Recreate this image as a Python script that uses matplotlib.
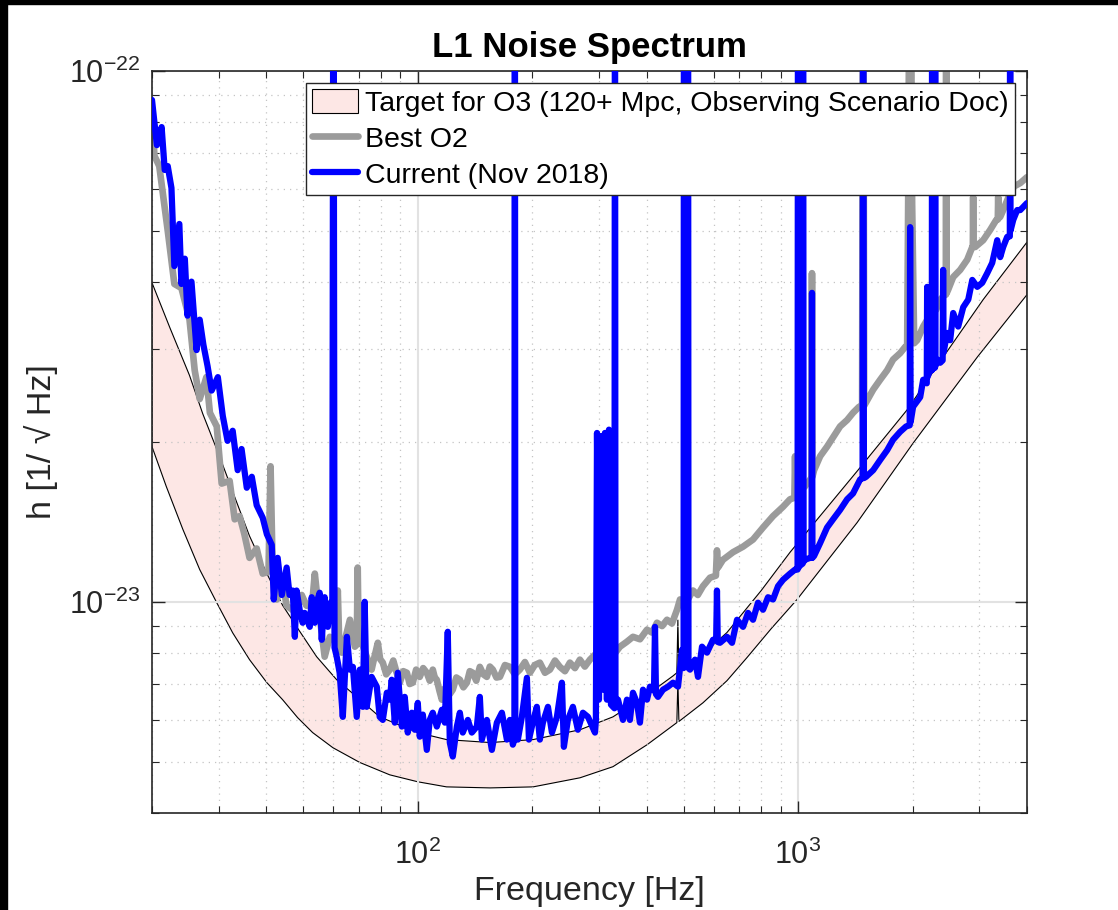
import numpy as np
import matplotlib
matplotlib.use("Agg")
from matplotlib import pyplot as plt
from matplotlib.patches import Rectangle
from matplotlib.ticker import LogLocator, NullFormatter

# Fontes (parecido com Helvetica do MATLAB)
plt.rcParams['font.family'] = ['Liberation Sans', 'DejaVu Sans']
plt.rcParams['mathtext.fontset'] = 'custom'
plt.rcParams['mathtext.rm'] = 'Liberation Sans'
plt.rcParams['mathtext.it'] = 'Liberation Sans:italic'
plt.rcParams['mathtext.bf'] = 'Liberation Sans:bold'

# Amplitudes em unidades de 1e-24 / sqrt(Hz)
UNIDADE = 1e-24

# Faixa alvo O3: curva superior e inferior
alvo_f_alto = [20, 22.3, 25.1, 27.2, 30.1, 33.4, 36.1, 40.1, 44.1, 48.9, 54.2, 61.2,
               69.1, 79.4, 100, 119, 155, 201, 267, 326, 401, 469, 480, 483, 486,
               552, 650, 800, 953, 1456, 1936, 2407, 3068, 4000]
alvo_alto = [39.9, 32.8, 26.7, 22.6, 18.8, 15.4, 13.3, 11.3, 9.85, 8.8, 7.88, 7.13,
             6.62, 6.07, 5.67, 5.50, 5.43, 5.50, 5.74, 6.07, 6.68, 7.25, 7.35, 9.25, 7.38,
             7.88, 8.75, 10.5, 12.4, 17.9, 23.0, 28.9, 37.1, 47.6]

alvo_f_baixo = [20, 21.8, 24.1, 26.7, 29.6, 32.6, 36.1, 40.1, 44.1, 48.3, 52.9, 59.8,
                70.4, 84.4, 100, 119, 155, 201, 267, 326, 401, 480, 483, 486,
                562, 650, 734, 850, 994, 1430, 2007, 2960, 4000]
alvo_baixo = [19.6, 16.5, 13.7, 11.5, 9.96, 8.74, 7.78, 7.04, 6.54, 6.05, 5.67, 5.31,
              4.98, 4.72, 4.58, 4.48, 4.46, 4.48, 4.66, 4.89, 5.38, 5.92, 7.10, 5.95,
              6.45, 7.10, 7.85, 8.9, 10.1, 14.1, 19.9, 28.9, 37.9]

# Melhor O2 (cinza)
o2_f = [20.0, 20.3, 20.9, 22.0, 22.9, 23.9, 25.1, 25.9, 26.7, 27.8, 28.4, 29.6, 30.5,
        32.0, 33.0, 34.0, 35.0, 36.1, 37.7, 39.1, 40.5, 41.0, 41.5, 42.6, 43.9, 45.2,
        48.0, 49.5, 51.0, 52.8, 53.6, 54.5, 56.9, 58.7, 61.0, 61.6, 62.2, 63.1, 66.3,
        68.3, 69.1, 69.5, 69.9, 71.2, 73.4, 75.6, 77.0, 78.5, 79.6, 80.9, 82.6, 84.4,
        86.2, 88.0, 89.7, 91.6, 93.6, 95.2, 97.0, 99.0, 101.2, 103.3, 105.6, 107.5,
        109.5, 110.8, 112.2, 114.0, 115.7, 117.4, 119.2, 121.4, 123.6, 126.3, 129.0,
        131.8, 134.6, 137.0, 139.5, 142.5, 145.6, 148.7, 151.9, 154.7, 157.5, 161.0,
        164.4, 169.5, 174.7, 180, 185.5, 191.3, 197.2, 203, 209.4, 216, 222.6, 229.5,
        236.4, 243.8, 251.2, 259, 266.8, 275, 283.6, 292.4, 301.3, 310.5, 320.1, 330,
        340.2, 354, 368.0, 384, 400.6, 413, 425.6, 439, 452.3, 466, 480.5, 489.3, 509,
        529.4, 545, 562.3, 586.7, 608, 612.0, 616, 634.7, 674.5, 716.6, 761.3, 808.8,
        859.3, 913.0, 952.6, 978, 982, 986, 994, 1043, 1076, 1085, 1088, 1091, 1102,
        1143, 1192, 1236, 1290, 1346, 1395, 1447, 1474, 1483, 1492, 1576, 1644, 1715,
        1778, 1855, 1912, 1936, 1948, 1971, 1995, 2020, 2057, 2133, 2225, 2266, 2275,
        2280, 2285, 2308, 2364, 2437, 2447, 2452, 2457, 2481, 2558, 2669, 2785, 2872,
        2882, 2887, 2892, 2923, 3068, 3201, 3320, 3352, 3360, 3368, 3401, 3463, 3613,
        3680, 3840, 4000]
o2_h = [82.3, 69.2, 66.2, 50.0, 39.7, 39.0, 34.0, 27.3, 24.1, 26.5, 22.7, 21.4, 16.7,
        16.9, 14.3, 14.5, 13.4, 12.1, 12.6, 11.3, 11.4, 18.0, 11.8, 10.1, 11.1, 9.83,
        9.53, 10.3, 9.83, 10.0, 11.3, 10.1, 7.88, 8.59, 8.4, 10.5, 8.2, 8.02, 9.25,
        8.23, 8.3, 11.6, 8.4, 8.37, 7.88, 7.45, 7.9, 8.37, 7.8, 7.68, 7.3, 7.45,
        7.75, 7.35, 7.04, 7.4, 7.35, 7.0, 7.04, 7.45, 7.22, 7.5, 7.35, 7.1,
        7.45, 7.2, 7.13, 6.8, 6.54, 6.85, 6.92, 6.7, 6.83, 7.2, 7.13,
        6.9, 7.04, 7.4, 7.35, 7.1, 7.54, 7.3, 7.22, 7.55, 7.45, 7.2,
        7.22, 7.6, 7.54, 7.3, 7.45, 7.7, 7.35, 7.6, 7.68, 7.35, 7.45, 7.75,
        7.54, 7.4, 7.68, 7.5, 7.78, 7.55, 7.78, 7.95, 7.95, 8.2, 8.12, 8.0,
        8.23, 8.4, 8.59, 8.5, 8.86, 8.75, 9.13, 9.0, 9.25, 9.1, 9.66, 10.1, 10.0,
        10.5, 10.3, 10.7, 11.1, 11.2, 12.5, 11.6, 12.0, 12.4, 12.7, 13.1, 13.8,
        14.5, 15.1, 15.6, 15.7, 18.8, 15.8, 16.0, 16.5, 17.0, 17.1, 41.6, 17.2, 17.7,
        18.8, 19.6, 20.4, 21.4, 22.0, 22.7, 23.3, 23.4, 300, 23.4, 25.1, 26.2, 27.3,
        28.6, 29.4, 30.2, 30.4, 56.4, 300, 56.4, 30.7, 31.1, 33.0, 34.7, 35.2, 35.3,
        300, 35.4, 35.5, 37.1, 37.9, 37.9, 300, 38.1, 38.7, 40.9, 42.2, 44.1, 46.6,
        46.7, 57.9, 46.8, 46.6, 48.0, 50.2, 52.4, 52.5, 57.9, 52.8, 53.1, 54.7, 58.9,
        60.5, 61.5, 63.1]

# Atual (Nov 2018, azul)
atual_f = [20.0, 20.6, 21.2, 21.6, 22.0, 22.5, 22.9, 23.6, 23.9, 24.4, 24.8, 25.4,
           26.2, 26.7, 27.3, 28.0, 28.7, 29.8, 30.7, 31.6, 32.6, 33.6, 34.4, 35.5,
           36.6, 37.7, 39.1, 40.1, 41.3, 41.8, 42.8, 43.9, 45.2, 46.0, 46.9, 47.5,
           48.0, 48.9, 49.8, 50.4, 52.0, 52.6, 53.6, 54.2, 55.2, 55.9, 56.9, 58.0,
           59.0, 59.6, 60.0, 60.4, 61.2, 62.3, 63.5, 65.1, 66.3, 67.5, 69.1, 70.4,
           71.7, 72.5, 73.4, 75.6, 78.0, 79.4, 80.9, 82.9, 84.4, 85.4, 87.0, 88.6,
           90.8, 92.4, 94.1, 96.4, 98.2, 100, 101.2, 103.1, 105.6, 107.5, 109.5, 112.2,
           115.7, 117.8, 119.9, 121.4, 123.6, 126.7, 129.0, 131.3, 135.4, 138.7, 143.0,
           145.6, 147.4, 151.9, 156.6, 161.4, 166.4, 171.5, 174.7, 177.8, 179.5, 180,
           180.5, 183.3, 187.8, 193.6, 196.0, 200.6, 205.6, 209.4, 213.3, 219.9, 225.3,
           232.2, 239.3, 242.2, 248.1, 255.8, 263.6, 271.8, 280.2, 292.4, 294, 296,
           299.5, 303.1, 306.8, 310.5, 314.3, 318.2, 322.1, 329, 330, 331, 336.1,
           346.4, 354.8, 361.3, 368.0, 377.0, 383.9, 391.0, 400.6, 407.9, 418, 420.5,
           423, 428.2, 441.4, 455.0, 469.0, 483.4, 495.2, 500, 501.2, 502.5, 507.4,
           512.5, 513.6, 515, 519.9, 535.8, 545.6, 559.0, 576.1, 597.4, 609, 612.0,
           615, 623.3, 650.4, 670.4, 691.0, 716.6, 738.6, 761.3, 784.6, 808.8, 833.7,
           859.3, 885.8, 913.0, 952.6, 982, 997, 1000, 1003, 1012, 1028, 1031, 1034,
           1043, 1076, 1085, 1088, 1091, 1102, 1143, 1192, 1236, 1290, 1346, 1395,
           1456, 1478, 1483, 1490, 1510, 1576, 1644, 1715, 1778, 1855, 1924, 1966,
           1971, 1977, 2007, 2095, 2133, 2180, 2185, 2190, 2225, 2248, 2252, 2256,
           2266, 2290, 2294, 2298, 2322, 2364, 2400, 2407, 2414, 2466, 2512, 2558,
           2637, 2719, 2803, 2872, 2960, 3050, 3144, 3240, 3340, 3401, 3463, 3548,
           3605, 3613, 3620, 3680, 3770, 3840, 4000]
atual_h = [88.2, 72.5, 78.4, 65.1, 66.2, 60.2, 42.9, 51.5, 39.7, 44.3, 34.6, 40.1,
           29.8, 34.0, 30.5, 27.8, 25.0, 26.5, 22.4, 20.1, 21.0, 17.7, 19.4, 16.4,
           17.2, 15.2, 14.4, 13.4, 12.8, 10.1, 12.1, 10.3, 11.6, 10.3, 10.5, 8.59,
           10.5, 9.66, 9.13, 9.53, 8.97, 10.2, 9.13, 9.96, 10.4, 8.48, 10.2, 8.97,
           9.96, 9.9, 300, 8.2, 7.88, 7.35, 6.07, 8.59, 7.45, 7.54, 6.07, 7.45,
           6.34, 10.0, 6.34, 7.22, 6.92, 6.07, 5.99, 6.74, 6.54, 7.13, 5.92, 7.35,
           5.82, 6.62, 5.67, 6.18, 5.74, 6.45, 5.57, 6.13, 5.26, 5.99, 6.18, 5.82,
           6.26, 5.92, 8.78, 5.43, 5.11, 5.82, 6.18, 5.67, 5.99, 5.67, 5.82,
           6.62, 5.50, 5.99, 5.26, 5.92, 6.18, 5.50, 5.99, 5.38, 5.5, 300,
           5.6, 5.50, 6.07, 7.19, 5.50, 5.92, 6.34, 5.50, 5.92, 6.34, 5.67,
           6.07, 7.04, 5.33, 5.99, 6.34, 5.74, 6.18, 6.07, 5.67, 5.99, 20.8,
           6.54, 20.5, 6.83, 20.8, 6.54, 21.1, 6.40, 6.3, 300, 6.4, 6.54,
           5.99, 6.54, 5.99, 6.74, 6.45, 5.92, 6.83, 6.54, 6.92, 6.8, 8.97,
           6.7, 6.62, 6.83, 6.92, 7.04, 6.92, 8.12, 7.5, 300, 7.6, 7.78,
           7.6, 300, 7.5, 7.45, 7.78, 7.22, 8.23, 8.02, 8.48, 8.5, 10.5,
           8.4, 8.37, 8.59, 8.37, 9.25, 8.97, 9.53, 9.25, 9.96, 9.66, 10.2,
           10.1, 10.7, 11.0, 11.3, 11.5, 11.5, 300, 11.6, 11.7, 11.8, 300, 11.9,
           12.0, 12.1, 12.1, 38.2, 12.1, 12.2, 12.9, 13.8, 14.3, 14.9, 15.6, 16.0,
           17.0, 17.1, 300, 17.1, 17.2, 17.7, 18.5, 19.3, 20.2, 20.9, 21.4, 21.5,
           50.8, 21.8, 23.3, 24.3, 26.2, 25.8, 39.2, 26.5, 27.3, 27.3, 300, 27.4,
           27.6, 27.6, 300, 27.8, 28.6, 28.2, 28.5, 42.2, 29.5, 32.1, 31.1, 35.0,
           33.0, 35.9, 37.1, 40.4, 39.2, 39.9, 41.6, 43.5, 48.0, 44.6, 46.6, 48.7,
           48.8, 300, 50.0, 52.4, 54.7, 54.7, 56.4]

rotulos = ['Target for O3 (120+ Mpc, Observing Scenario Doc)', 'Best O2', 'Current (Nov 2018)']

# Cores
rosa = '#fde7e5'
cinza = '#9b9b9b'
azul = '#0000ff'
cinza_eixo = '#262626'

fig = plt.figure(figsize=(11.18, 9.10), dpi=100)
ax = fig.add_axes([152 / 1118, 1 - 813 / 910, 875 / 1118, 742 / 910])

# Faixa alvo como poligono (superior ida, inferior volta)
poli_f = np.concatenate([alvo_f_alto, alvo_f_baixo[::-1]])
poli_h = np.concatenate([alvo_alto, alvo_baixo[::-1]]) * UNIDADE
ax.fill(poli_f, poli_h, facecolor=rosa, edgecolor='black', linewidth=0.8, label=rotulos[0], zorder=1)

ax.plot(o2_f, np.array(o2_h) * UNIDADE, color=cinza, linewidth=4.8,
        solid_joinstyle='round', solid_capstyle='round', label=rotulos[1], zorder=2)
ax.plot(atual_f, np.array(atual_h) * UNIDADE, color=azul, linewidth=4.5,
        solid_joinstyle='round', solid_capstyle='round', label=rotulos[2], zorder=3)

# Eixos
ax.set_xscale('log')
ax.set_yscale('log')
ax.set_xlim(20, 4000)
ax.set_ylim(4e-24, 1e-22)
ax.xaxis.set_major_locator(LogLocator(base=10))
ax.yaxis.set_major_locator(LogLocator(base=10))
ax.xaxis.set_minor_locator(LogLocator(base=10, subs=np.arange(2, 10)))
ax.yaxis.set_minor_locator(LogLocator(base=10, subs=np.arange(2, 10)))
ax.xaxis.set_minor_formatter(NullFormatter())
ax.yaxis.set_minor_formatter(NullFormatter())

ax.tick_params(which='both', direction='in', top=True, right=True, colors=cinza_eixo,
               labelsize=22)
ax.tick_params(which='major', length=9, width=1.0)
ax.tick_params(which='minor', length=5, width=0.8)
ax.tick_params(axis='x', which='major', pad=19)
ax.tick_params(axis='y', which='major', pad=8)

ax.grid(which='major', color='#e2e2e2', linewidth=1.5, linestyle='-')
ax.grid(which='minor', color='#c4c4c4', linewidth=0.9, linestyle=(0, (1, 4)))
ax.set_axisbelow('line')

for lado in ax.spines.values():
    lado.set_color(cinza_eixo)
    lado.set_linewidth(1.2)

ax.set_title('L1 Noise Spectrum', fontsize=25, fontweight='bold', pad=10)
ax.set_xlabel('Frequency [Hz]', fontsize=24.5, color=cinza_eixo, labelpad=4)
ax.set_ylabel('h [1/ \u221a Hz]', fontsize=24.5, color=cinza_eixo, labelpad=8)

leg = ax.legend(loc='upper left', bbox_to_anchor=(0.176, 0.984), borderaxespad=0,
                fontsize=20.5, frameon=True, fancybox=False, edgecolor=cinza_eixo,
                framealpha=1, handlelength=1.6, handleheight=0.9, handletextpad=0.25,
                labelspacing=0.3, borderpad=0.22)
leg.get_frame().set_linewidth(1.0)

# Bordas pretas da captura
fig.patches.append(Rectangle((0, 1 - 4 / 910), 1, 4 / 910, transform=fig.transFigure,
                             color='black', zorder=10))
fig.patches.append(Rectangle((0, 0), 7 / 1118, 1, transform=fig.transFigure,
                             color='black', zorder=10))

fig.savefig('out.png', dpi=100)
